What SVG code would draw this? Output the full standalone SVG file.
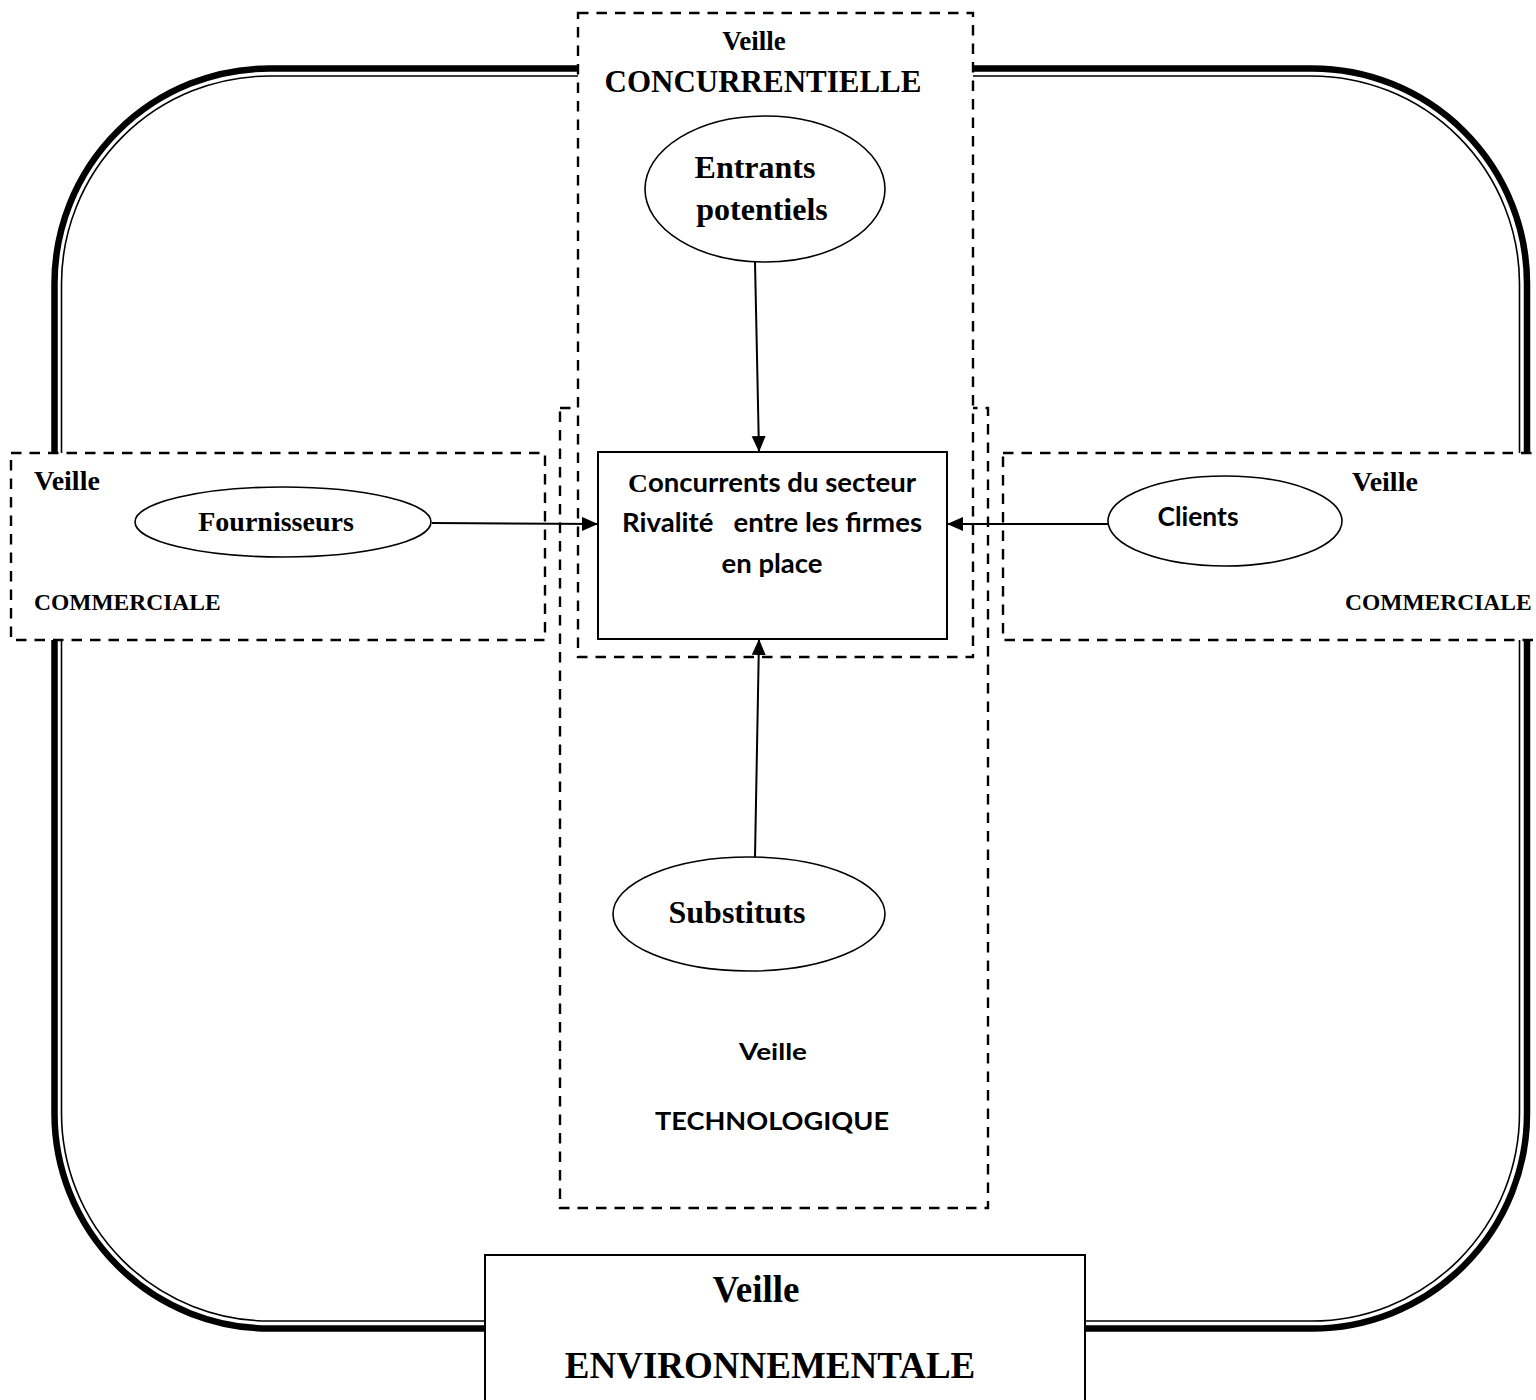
<svg xmlns="http://www.w3.org/2000/svg" width="1536" height="1400" viewBox="0 0 1536 1400">
  <style>
    .serif { font-family: "Liberation Serif", "Times New Roman", serif; font-weight: bold; fill: #000; }
    .sans { font-family: Lato, "Open Sans", "Liberation Sans", sans-serif; font-weight: bold; fill: #000; }
    .dashed { fill: #fff; stroke: #000; stroke-width: 2.4; stroke-dasharray: 10.5 8; }
    .node { fill: #fff; stroke: #000; stroke-width: 1.6; }
    .edge { fill: none; stroke: #000; stroke-width: 2; marker-end: url(#arrow); }
  </style>
  <defs>
    <marker id="arrow" markerUnits="userSpaceOnUse" markerWidth="18" markerHeight="16" refX="16" refY="7" orient="auto">
      <path d="M0,0 L16,7 L0,14 z" fill="#000"/>
    </marker>
  </defs>

  <rect width="1536" height="1400" fill="#fff"/>

  <!-- environment frame: thick outer line with thin inner line -->
  <g id="frame">
    <rect x="54.5" y="68.5" width="1472.5" height="1260" rx="215" ry="215" fill="none" stroke="#000" stroke-width="6.5"/>
    <rect x="61.5" y="76" width="1458" height="1245" rx="208" ry="208" fill="none" stroke="#000" stroke-width="1.6"/>
  </g>

  <!-- technology watch zone -->
  <g id="zone-technologique">
    <rect class="dashed" x="560" y="408" width="428" height="800"/>
    <text class="sans" x="773" y="1060" font-size="22" text-anchor="middle" textLength="68" lengthAdjust="spacingAndGlyphs">Veille</text>
    <text class="sans" x="772" y="1130" font-size="24" text-anchor="middle" textLength="234" lengthAdjust="spacingAndGlyphs">TECHNOLOGIQUE</text>
  </g>

  <!-- competitive watch zone -->
  <g id="zone-concurrentielle">
    <rect class="dashed" x="578" y="13" width="395" height="644"/>
    <text class="serif" x="754" y="50" font-size="27" text-anchor="middle">Veille</text>
    <text class="serif" x="763" y="92" font-size="31" text-anchor="middle">CONCURRENTIELLE</text>
  </g>

  <!-- commercial watch zones -->
  <g id="zone-commerciale-gauche">
    <rect class="dashed" x="11" y="453" width="534" height="187"/>
    <text class="serif" x="34" y="490" font-size="28">Veille</text>
    <text class="serif" x="34" y="610" font-size="23.5">COMMERCIALE</text>
  </g>
  <g id="zone-commerciale-droite">
    <rect class="dashed" x="1003" y="453" width="560" height="187"/>
    <text class="serif" x="1352" y="491" font-size="28">Veille</text>
    <text class="serif" x="1345" y="610" font-size="23.5">COMMERCIALE</text>
  </g>

  <!-- environmental watch label box -->
  <g id="zone-environnementale">
    <rect x="485" y="1255" width="600" height="160" fill="#fff" stroke="#000" stroke-width="2"/>
    <text class="serif" x="756" y="1302" font-size="37" text-anchor="middle">Veille</text>
    <text class="serif" x="770" y="1378" font-size="37" text-anchor="middle">ENVIRONNEMENTALE</text>
  </g>

  <!-- connectors -->
  <g id="connectors">
    <line class="edge" x1="755" y1="262" x2="759" y2="452"/>
    <line class="edge" x1="432" y1="523" x2="598" y2="524"/>
    <line class="edge" x1="1108" y1="524" x2="947" y2="524"/>
    <line class="edge" x1="755" y1="857" x2="759" y2="639"/>
  </g>

  <!-- central node -->
  <g id="concurrents">
    <rect x="598" y="452" width="349" height="187" fill="#fff" stroke="#000" stroke-width="2"/>
    <text class="sans" x="772" y="492" font-size="26" text-anchor="middle" textLength="288" lengthAdjust="spacingAndGlyphs"><tspan font-family="Liberation Serif, serif">C</tspan>oncurrents du secteur</text>
    <text class="sans" x="772" y="532" font-size="26" text-anchor="middle" textLength="300" lengthAdjust="spacingAndGlyphs" xml:space="preserve">Rivalité   entre les firmes</text>
    <text class="sans" x="772" y="573" font-size="26" text-anchor="middle" textLength="101" lengthAdjust="spacingAndGlyphs">en place</text>
  </g>

  <g id="entrants">
    <ellipse class="node" cx="765" cy="189" rx="120" ry="73"/>
    <text class="serif" x="755" y="178" font-size="32" text-anchor="middle">Entrants</text>
    <text class="serif" x="762" y="220" font-size="32" text-anchor="middle">potentiels</text>
  </g>

  <g id="fournisseurs">
    <ellipse class="node" cx="283" cy="522" rx="148" ry="35"/>
    <text class="serif" x="276" y="531" font-size="28" text-anchor="middle">Fournisseurs</text>
  </g>

  <g id="clients">
    <ellipse class="node" cx="1225" cy="521" rx="117" ry="45"/>
    <text class="sans" x="1198" y="526" font-size="27" text-anchor="middle" textLength="81" lengthAdjust="spacingAndGlyphs">Clients</text>
  </g>

  <g id="substituts">
    <ellipse class="node" cx="749" cy="914" rx="136" ry="57"/>
    <text class="serif" x="737" y="923" font-size="32" text-anchor="middle">Substituts</text>
  </g>
</svg>
